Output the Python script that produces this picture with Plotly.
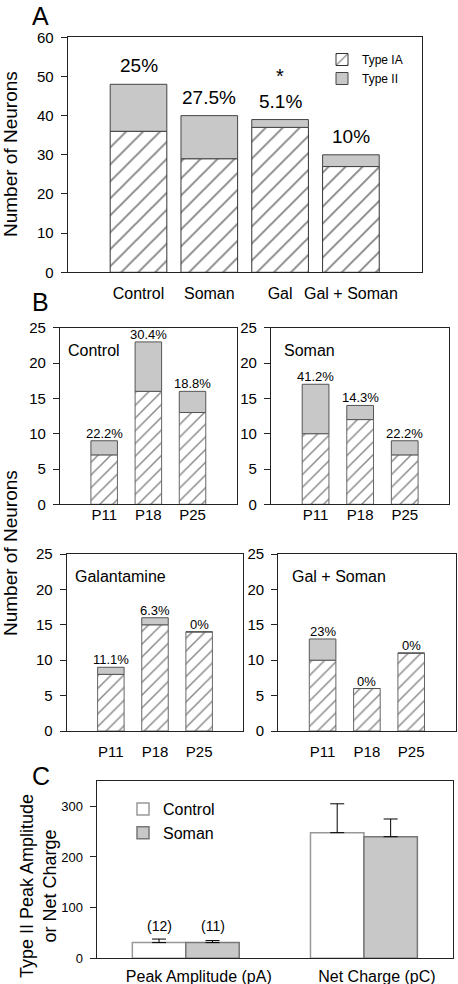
import plotly.graph_objects as go

# ---------------- data ----------------
groups_a = ["Control", "Soman", "Gal", "Gal + Soman"]
type_ia_a = [36, 29, 37, 27]
type_ii_a = [12, 11, 2, 3]
pct_a = ["25%", "27.5%", "5.1%", "10%"]
star_group = "Gal"

ages = ["P11", "P18", "P25"]
b_names = ["Control", "Soman", "Galantamine", "Gal + Soman"]
ia_control = [7, 16, 13]
ii_control = [2, 7, 3]
pct_control = ["22.2%", "30.4%", "18.8%"]
ia_soman = [10, 12, 7]
ii_soman = [7, 2, 2]
pct_soman = ["41.2%", "14.3%", "22.2%"]
ia_gal = [8, 15, 14]
ii_gal = [1, 1, 0]
pct_gal = ["11.1%", "6.3%", "0%"]
ia_galsoman = [10, 6, 11]
ii_galsoman = [3, 0, 0]
pct_galsoman = ["23%", "0%", "0%"]

measures = ["Peak Amplitude (pA)", "Net Charge (pC)"]
control_mean = [31, 248]
control_sem = [7, 57]
soman_mean = [31, 240]
soman_sem = [4, 35]
n_labels = ["(12)", "(11)"]

# ---------------- helpers ----------------
W, H = 458, 984
FONT = "Liberation Sans, Arial, Helvetica, sans-serif"
AX = "#222222"
GRAY = "#c8c8c8"


def px(x):
    return x / W


def py(y):
    return 1 - y / H


def hatch(size):
    return dict(shape="/", size=size, solidity=0.16, fgcolor="#111111", bgcolor="white", fillmode="overlay")


fig = go.Figure()

# ---------------- panel A ----------------
fig.add_trace(go.Bar(x=groups_a, y=type_ia_a, width=0.8, name="Type IA",
                     marker=dict(color="white", pattern=hatch(12), line=dict(color="#333", width=1)),
                     xaxis="x", yaxis="y", legend="legend"))
fig.add_trace(go.Bar(x=groups_a, y=type_ii_a, base=type_ia_a, width=0.8, name="Type II",
                     marker=dict(color=GRAY, line=dict(color="#444", width=1)),
                     xaxis="x", yaxis="y", legend="legend"))

annotations = []
totals_a = [a + b for a, b in zip(type_ia_a, type_ii_a)]
for g, t, p in zip(groups_a, totals_a, pct_a):
    annotations.append(dict(x=g, y=t, xref="x", yref="y", text=p, showarrow=False,
                            yanchor="bottom", yshift=6, font=dict(size=19)))
annotations.append(dict(x=star_group, y=totals_a[groups_a.index(star_group)], xref="x", yref="y",
                        text="*", showarrow=False, yanchor="bottom", yshift=31, font=dict(size=20)))

# ---------------- panel B ----------------
b_sets = [(ia_control, ii_control, pct_control),
          (ia_soman, ii_soman, pct_soman),
          (ia_gal, ii_gal, pct_gal),
          (ia_galsoman, ii_galsoman, pct_galsoman)]
for i, (ia, ii, pct) in enumerate(b_sets):
    xa, ya = f"x{i + 2}", f"y{i + 2}"
    fig.add_trace(go.Bar(x=ages, y=ia, width=0.6, showlegend=False,
                         marker=dict(color="white", pattern=hatch(9), line=dict(color="#666", width=1)),
                         xaxis=xa, yaxis=ya))
    fig.add_trace(go.Bar(x=ages, y=ii, base=ia, width=0.6, showlegend=False,
                         marker=dict(color=GRAY, line=dict(color="#555", width=1)),
                         xaxis=xa, yaxis=ya))
    for a, b, c, p in zip(ages, ia, ii, pct):
        annotations.append(dict(x=a, y=b + c, xref=xa, yref=ya, text=p, showarrow=False,
                                yanchor="bottom", yshift=-2, font=dict(size=13)))

# ---------------- panel C ----------------
bw = 0.3
fig.add_trace(go.Bar(x=measures, y=control_mean, width=bw, offset=-bw, name="Control",
                     marker=dict(color="white", line=dict(color="#999", width=1.5)),
                     error_y=dict(type="data", symmetric=False, array=control_sem,
                                  arrayminus=[0] * len(control_sem), color="black", thickness=1, width=7),
                     xaxis="x6", yaxis="y6", legend="legend2"))
fig.add_trace(go.Bar(x=measures, y=soman_mean, width=bw, offset=0, name="Soman",
                     marker=dict(color=GRAY, line=dict(color="#777", width=1.5)),
                     error_y=dict(type="data", symmetric=False, array=soman_sem,
                                  arrayminus=[0] * len(soman_sem), color="black", thickness=1, width=7),
                     xaxis="x6", yaxis="y6", legend="legend2"))
annotations.append(dict(x=-bw / 2, y=control_mean[0] + control_sem[0], xref="x6", yref="y6",
                        text=n_labels[0], showarrow=False, yanchor="bottom", yshift=3, font=dict(size=14)))
annotations.append(dict(x=bw / 2, y=soman_mean[0] + soman_sem[0], xref="x6", yref="y6",
                        text=n_labels[1], showarrow=False, yanchor="bottom", yshift=5, font=dict(size=14)))

# ---------------- texts (titles, panel letters, insets) ----------------
for letter, x, y in [("A", 40, 16), ("B", 40, 302), ("C", 41, 776)]:
    annotations.append(dict(x=px(x), y=py(y), xref="paper", yref="paper", text=letter, showarrow=False,
                            xanchor="center", yanchor="middle", font=dict(size=25)))
annotations.append(dict(x=px(10), y=py(154), xref="paper", yref="paper", text="Number of Neurons",
                        textangle=-90, showarrow=False, xanchor="center", yanchor="middle",
                        font=dict(size=19)))
annotations.append(dict(x=px(10), y=py(553), xref="paper", yref="paper", text="Number of Neurons",
                        textangle=-90, showarrow=False, xanchor="center", yanchor="middle",
                        font=dict(size=19)))
annotations.append(dict(x=px(38), y=py(886), xref="paper", yref="paper",
                        text="Type II Peak Amplitude<br>or Net Charge",
                        textangle=-90, showarrow=False, xanchor="center", yanchor="middle",
                        font=dict(size=18)))
for name, x, y in zip(b_names, [66, 282, 73, 290], [350, 350, 576, 576]):
    annotations.append(dict(x=px(x), y=py(y), xref="paper", yref="paper", text=name, showarrow=False,
                            xanchor="left", yanchor="middle", font=dict(size=16)))


def xaxis(domain, rng, anchor, size, standoff, shift=0):
    return dict(domain=domain, range=rng, anchor=anchor, showline=True, linecolor=AX, linewidth=1.2,
                mirror=True, ticks="", showgrid=False, zeroline=False, fixedrange=True, automargin=False,
                tickfont=dict(size=size, color="black"), ticklabelstandoff=standoff, ticklabelshift=shift)


def yaxis(domain, rng, dtick, anchor, size):
    return dict(domain=domain, range=rng, dtick=dtick, anchor=anchor, showline=True, linecolor=AX,
                linewidth=1.2, mirror=True, ticks="outside", ticklen=6, tickcolor=AX, tickwidth=1.2,
                showgrid=False, zeroline=False, fixedrange=True, automargin=False,
                tickfont=dict(size=size, color="black"), ticklabelstandoff=4)


dA_x = [px(67.7), px(421.7)]
dA_y = [py(272.3), py(37.3)]
dB1_x = [px(60), px(236.7)]
dB2_x = [px(271), px(449.3)]
dB3_x = [px(66.7), px(243.3)]
dB4_x = [px(278.3), px(455.5)]
dBtop_y = [py(504.3), py(327.8)]
dBbot_y = [py(731), py(554)]
dC_x = [px(96.7), px(453)]
dC_y = [py(958.3), py(781)]

fig.update_layout(
    width=W, height=H, margin=dict(l=0, r=0, t=0, b=0, autoexpand=False),
    paper_bgcolor="white", plot_bgcolor="white",
    font=dict(family=FONT, color="black"),
    barmode="overlay",
    xaxis=xaxis(dA_x, [-1, 4], "y", 16, 6),
    yaxis=yaxis(dA_y, [0, 60], 10, "x", 15),
    xaxis2=xaxis(dB1_x, [-1, 3], "y2", 15, -3),
    yaxis2=yaxis(dBtop_y, [0, 25], 5, "x2", 15),
    xaxis3=xaxis(dB2_x, [-1, 3], "y3", 15, -3),
    yaxis3=yaxis(dBtop_y, [0, 25], 5, "x3", 15),
    xaxis4=xaxis(dB3_x, [-1, 3], "y4", 15, 7),
    yaxis4=yaxis(dBbot_y, [0, 25], 5, "x4", 15),
    xaxis5=xaxis(dB4_x, [-1, 3], "y5", 15, 7),
    yaxis5=yaxis(dBbot_y, [0, 25], 5, "x5", 15),
    xaxis6=xaxis(dC_x, [-0.5, 1.5], "y6", 16, 3, 13),
    yaxis6=yaxis(dC_y, [0, 350], 100, "x6", 13),
    legend=dict(x=px(322), y=py(45), xanchor="left", yanchor="top", bgcolor="rgba(0,0,0,0)",
                font=dict(size=12), tracegroupgap=0, traceorder="normal"),
    legend2=dict(x=px(123), y=py(792), xanchor="left", yanchor="top", bgcolor="rgba(0,0,0,0)",
                 font=dict(size=16), tracegroupgap=0, traceorder="normal"),
    annotations=annotations,
)

fig.write_html("out.html", config={"displayModeBar": False},
               post_script="document.body.style.margin='0px';document.body.style.overflow='hidden';")
